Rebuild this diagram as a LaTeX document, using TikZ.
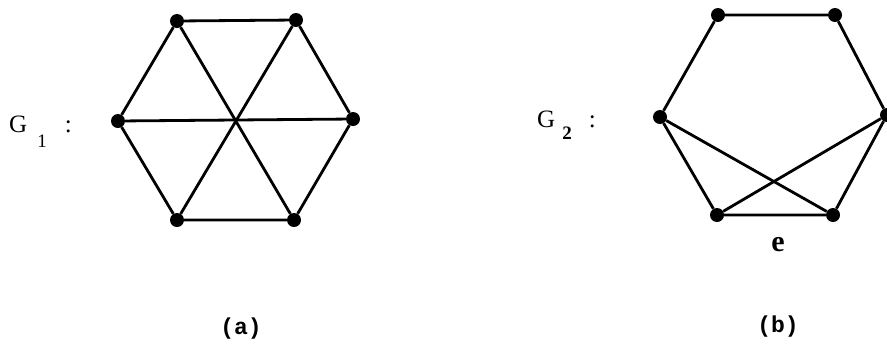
\documentclass[tikz,border=0pt]{standalone}
\usepackage{fontspec}
\setmainfont{Liberation Serif}
\newfontfamily\labfont{Liberation Mono}
\begin{document}
\begin{tikzpicture}[x=1pt,y=-1pt,
  vtx/.style={circle,fill=black,inner sep=0pt,minimum size=14pt},
  edge/.style={line width=2.8pt},
  glabel/.style={inner sep=0pt,anchor=base west,font=\fontsize{25}{25}\selectfont},
  captxt/.style={inner sep=0pt,font=\labfont\bfseries\fontsize{23}{23}\selectfont}]
\useasboundingbox (0,0) rectangle (887,349);
% G1
\node[vtx] (a1) at (177,21) {};
\node[vtx] (a2) at (296,20) {};
\node[vtx] (a3) at (353,119) {};
\node[vtx] (a4) at (294,220) {};
\node[vtx] (a5) at (177,220) {};
\node[vtx] (a6) at (118,121) {};
\draw[edge] (a1) -- (a2) -- (a3) -- (a4) -- (a5) -- (a6) -- (a1);
\draw[edge] (a1) -- (a4);
\draw[edge] (a2) -- (a5);
\draw[edge] (a6) -- (a3);
\node[glabel] (g1) at (9,132) {G\hspace{10pt}\raisebox{-15pt}{\fontsize{19}{19}\selectfont 1}\hspace{18pt}:};
% G2
\node[vtx] (b1) at (718,15) {};
\node[vtx] (b2) at (835,15) {};
\node[vtx] (b3) at (887,115) {};
\node[vtx] (b4) at (833,215) {};
\node[vtx] (b5) at (717,215) {};
\node[vtx] (b6) at (660,117) {};
\draw[edge] (b1) -- (b2) -- (b3) -- (b4) -- (b5) -- (b6) -- (b1);
\draw[edge] (b6) -- (b4);
\draw[edge] (b3) -- (b5);
\node[glabel] (g2) at (537,127) {G\hspace{7pt}\raisebox{-12pt}{\fontsize{19}{19}\selectfont\bfseries 2}\hspace{17pt}:};
\node[inner sep=0pt,font=\bfseries\fontsize{30}{30}\selectfont] (e) at (778,245) {e};
% captions
\node[captxt] (ca) at (241,329) {(a)};
\node[captxt] (cb) at (778,327) {(b)};
\end{tikzpicture}
\end{document}
